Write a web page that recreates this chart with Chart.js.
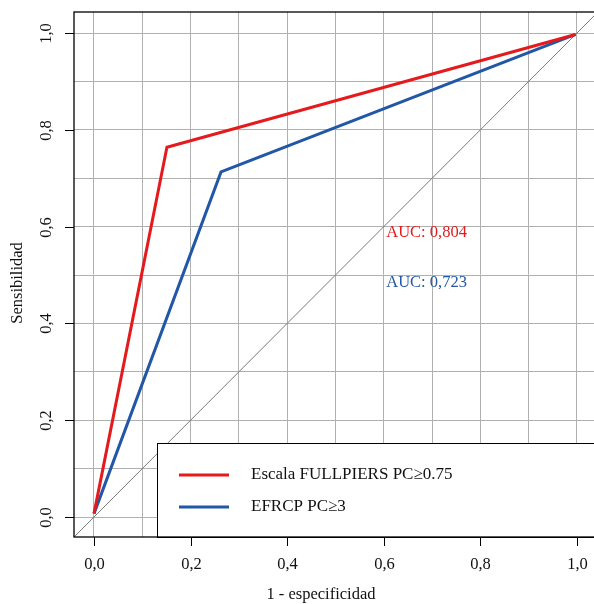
<!DOCTYPE html>
<html>
<head>
<meta charset="utf-8">
<script src="https://cdn.jsdelivr.net/npm/chart.js@4"></script>
<style>
  html, body { margin: 0; padding: 0; background: #fff; }
  #wrap { width: 594px; height: 604px; }
</style>
</head>
<body>
<div id="wrap"><canvas id="roc" width="594" height="604"></canvas></div>
<script>
// ROC curves (x = 1 - especificidad, y = sensibilidad)
const fullpiersX = [0.0, 0.151, 0.997];
const fullpiersY = [0.007, 0.764, 0.997];
const efrcpX = [0.0, 0.263, 0.997];
const efrcpY = [0.007, 0.713, 0.997];

const seriesLabels = ['Escala FULLPIERS PC\u22650.75', 'EFRCP PC\u22653'];
const aucLabels = ['AUC: 0,804', 'AUC: 0,723'];
const tickValues = [0, 0.2, 0.4, 0.6, 0.8, 1.0];
const tickLabels = ['0,0', '0,2', '0,4', '0,6', '0,8', '1,0'];
const gridValues = [0, 0.1, 0.2, 0.3, 0.4, 0.5, 0.6, 0.7, 0.8, 0.9, 1.0];

const RED = '#e41a1c';
const BLUE = '#2157a6';
const FONT = '"Liberation Serif", "DejaVu Serif", serif';

function toPoints(xs, ys) {
  return xs.map((x, i) => ({ x: x, y: ys[i] }));
}

const rPlot = {
  id: 'rPlot',
  afterDatasetsDraw(chart) {
    const ctx = chart.ctx;
    const a = chart.chartArea;
    const xs = chart.scales.x;
    const ys = chart.scales.y;
    ctx.save();

    // AUC text
    ctx.font = '16.5px ' + FONT;
    ctx.textAlign = 'left';
    ctx.textBaseline = 'middle';
    ctx.fillStyle = RED;
    ctx.fillText(aucLabels[0], xs.getPixelForValue(0.605), ys.getPixelForValue(0.587));
    ctx.fillStyle = BLUE;
    ctx.fillText(aucLabels[1], xs.getPixelForValue(0.605), ys.getPixelForValue(0.484));

    // legend box
    const lx = 157, ly = 443;
    ctx.fillStyle = '#fff';
    ctx.fillRect(lx, ly, a.right - lx + 5, a.bottom - ly);
    ctx.strokeStyle = '#000';
    ctx.lineWidth = 1;
    ctx.strokeRect(lx + 0.5, ly + 0.5, a.right - lx + 5, a.bottom - ly);
    const colors = [RED, BLUE];
    ctx.font = '17px ' + FONT;
    seriesLabels.forEach((lab, i) => {
      const yy = 475 + i * 32;
      ctx.strokeStyle = colors[i];
      ctx.lineWidth = 3;
      ctx.beginPath();
      ctx.moveTo(179, yy);
      ctx.lineTo(229, yy);
      ctx.stroke();
      ctx.fillStyle = '#111';
      ctx.fillText(lab, 251, yy);
    });

    // frame
    ctx.strokeStyle = '#000';
    ctx.lineWidth = 1.3;
    ctx.strokeRect(a.left, a.top, a.right - a.left + 5, a.bottom - a.top);

    // ticks and labels
    ctx.lineWidth = 1;
    ctx.fillStyle = '#111';
    ctx.font = '16.5px ' + FONT;
    tickValues.forEach((v, i) => {
      const px = Math.round(xs.getPixelForValue(v)) + 0.5;
      ctx.beginPath();
      ctx.moveTo(px, a.bottom);
      ctx.lineTo(px, a.bottom + 9);
      ctx.stroke();
      ctx.textAlign = 'center';
      ctx.textBaseline = 'middle';
      ctx.fillText(tickLabels[i], px, 565);

      const py = Math.round(ys.getPixelForValue(v)) + 0.5;
      ctx.beginPath();
      ctx.moveTo(a.left - 9, py);
      ctx.lineTo(a.left, py);
      ctx.stroke();
      ctx.save();
      ctx.translate(47, py);
      ctx.rotate(-Math.PI / 2);
      ctx.fillText(tickLabels[i], 0, 0);
      ctx.restore();
    });

    // axis titles
    ctx.textAlign = 'center';
    ctx.textBaseline = 'middle';
    ctx.fillText('1 - especificidad', 321, 595);
    ctx.save();
    ctx.translate(18, 283);
    ctx.rotate(-Math.PI / 2);
    ctx.fillText('Sensibilidad', 0, 0);
    ctx.restore();

    ctx.restore();
  }
};

const gridOpts = { color: '#b0b0b0', lineWidth: 1, drawTicks: false };

new Chart(document.getElementById('roc').getContext('2d'), {
  type: 'scatter',
  data: {
    datasets: [
      {
        label: seriesLabels[0],
        data: toPoints(fullpiersX, fullpiersY),
        showLine: true,
        borderColor: RED,
        borderWidth: 3,
        pointRadius: 0,
        order: 1
      },
      {
        label: seriesLabels[1],
        data: toPoints(efrcpX, efrcpY),
        showLine: true,
        borderColor: BLUE,
        borderWidth: 3,
        pointRadius: 0,
        order: 2
      },
      {
        label: 'diagonal',
        data: [{ x: -0.05, y: -0.05 }, { x: 1.1, y: 1.1 }],
        showLine: true,
        borderColor: '#7a7a7a',
        borderWidth: 1,
        pointRadius: 0,
        order: 3
      }
    ]
  },
  options: {
    responsive: false,
    animation: false,
    devicePixelRatio: 1,
    layout: { padding: { top: 12, right: 0, left: 0, bottom: 0 } },
    plugins: {
      legend: { display: false },
      tooltip: { enabled: false }
    },
    scales: {
      x: {
        type: 'linear',
        min: -0.0414,
        max: 1.0352,
        grid: gridOpts,
        border: { display: false },
        ticks: { display: false },
        afterBuildTicks: s => { s.ticks = gridValues.map(v => ({ value: v })); },
        afterFit: s => { s.height = 67; }
      },
      y: {
        type: 'linear',
        min: -0.0413,
        max: 1.0434,
        grid: gridOpts,
        border: { display: false },
        ticks: { display: false },
        afterBuildTicks: s => { s.ticks = gridValues.map(v => ({ value: v })); },
        afterFit: s => { s.width = 74; }
      }
    }
  },
  plugins: [rPlot]
});
</script>
</body>
</html>
